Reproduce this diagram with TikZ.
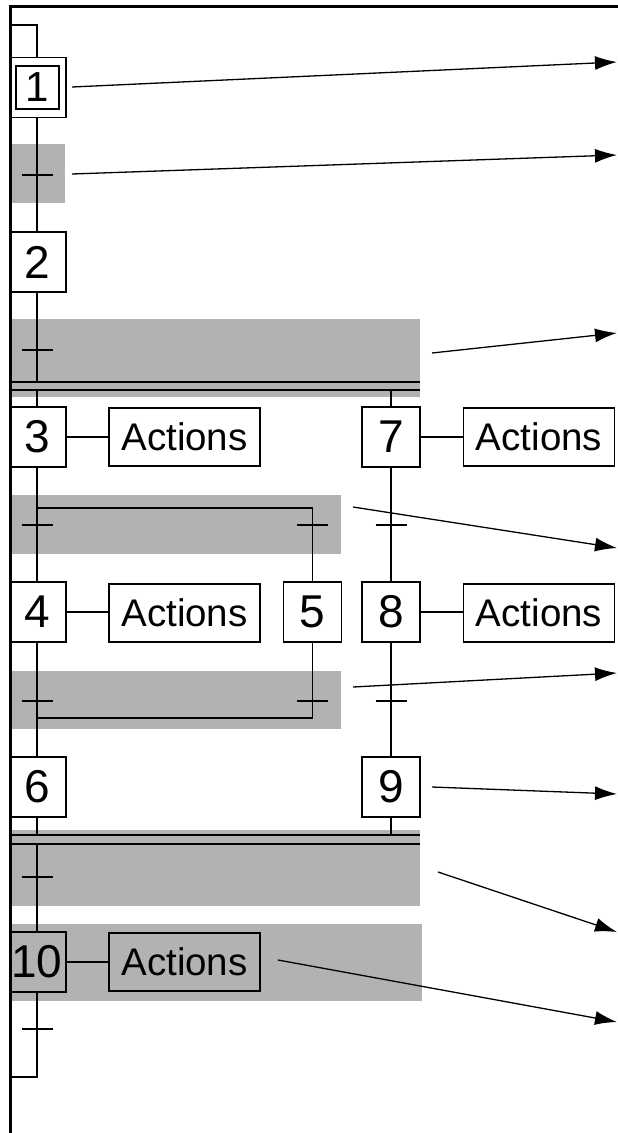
\documentclass[tikz,border=0pt]{standalone}
\usepackage{fontspec}
\setmainfont{Liberation Sans}
\usetikzlibrary{arrows.meta}
\begin{document}
\begin{tikzpicture}[x=1pt,y=-1pt,
  stepbox/.style={draw,line width=1.4pt,minimum width=58pt,minimum height=60pt,inner sep=0pt,font=\fontsize{46}{46}\selectfont},
  innerbox/.style={draw,line width=1.4pt,minimum size=43pt,inner sep=0pt,font=\fontsize{42}{42}\selectfont},
  actbox/.style={draw,line width=1.4pt,minimum width=151pt,minimum height=58pt,inner sep=0pt,font=\fontsize{38.5}{38.5}\selectfont},
  link/.style={line width=1.4pt},
  zone/.style={fill=gray!60,draw=none},
  pointer/.style={line width=1.3pt,-{Latex[length=22pt,width=14pt]}},
  frameline/.style={line width=3pt}]
\useasboundingbox (0,0) rectangle (618,1133);
\begin{scope}
\clip (10,6) rectangle (618,1133);
% shaded zones
\fill[zone] (0,144) rectangle (65,203);
\fill[zone] (0,319) rectangle (420,397);
\fill[zone] (0,495) rectangle (341,554);
\fill[zone] (0,671) rectangle (341,729);
\fill[zone] (0,830) rectangle (420,906);
\fill[zone] (0,924) rectangle (422,1001);
% steps
\node[stepbox] (s1) at (37,87.5) {};
\node[innerbox] (s1i) at (37.5,87.5) {1};
\node[stepbox] (s2) at (37,262) {2};
\node[stepbox] (s3) at (37,437) {3};
\node[stepbox] (s4) at (37,612) {4};
\node[stepbox] (s5) at (312.5,612) {5};
\node[stepbox] (s6) at (37,787) {6};
\node[stepbox] (s7) at (391,437) {7};
\node[stepbox] (s8) at (391,612) {8};
\node[stepbox] (s9) at (391,787) {9};
\node[stepbox] (s10) at (37,962) {10};
% actions
\node[actbox] (a3) at (184.5,437) {Actions};
\node[actbox] (a4) at (184.5,613) {Actions};
\node[actbox] (a7) at (539,437) {Actions};
\node[actbox] (a8) at (539,613) {Actions};
\node[actbox] (a10) at (184.5,962) {Actions};
\draw[link] (s3.east) -- (a3.west);
\draw[link] (s4.east) -- (a4.west |- s4.east);
\draw[link] (s7.east) -- (a7.west);
\draw[link] (s8.east) -- (a8.west |- s8.east);
\draw[link] (s10.east) -- (a10.west);
% coordinates
\coordinate (loopT) at (0,25);
\coordinate (loopB) at (0,1077);
\coordinate (divT) at (420,382);
\coordinate (divB) at (420,390);
\coordinate (orD) at (0,508);
\coordinate (orC) at (0,718);
\coordinate (cvT) at (420,835);
\coordinate (cvB) at (420,844);
\coordinate (t1) at (37,175);
\coordinate (t2) at (37,350);
\coordinate (t3) at (37,525);
\coordinate (t3m) at (312.5,525);
\coordinate (t3r) at (391,525);
\coordinate (t4) at (37,701);
\coordinate (t4m) at (312.5,701);
\coordinate (t4r) at (391,701);
\coordinate (t5) at (37,877);
\coordinate (t6) at (37,1029);
% main links
\draw[link] (loopT) -- (s1.north |- loopT) -- (s1.north);
\draw[link] (s1.south) -- (s2.north);
\draw[link] (s2.south) -- (s2.south |- divT);
\draw[link] (0,382) -- (divT);
\draw[link] (0,390) -- (divB);
\draw[link] (s3.north |- divB) -- (s3.north);
\draw[link] (s7.north |- divB) -- (s7.north);
\draw[link] (s3.south) -- (s4.north);
\draw[link] (s3.south |- orD) -- (s5.north |- orD) -- (s5.north);
\draw[link] (s4.south) -- (s6.north);
\draw[link] (s5.south) -- (s5.south |- orC) -- (s4.south |- orC);
\draw[link] (s7.south) -- (s8.north);
\draw[link] (s8.south) -- (s9.north);
\draw[link] (s9.south) -- (s9.south |- cvT);
\draw[link] (s6.south) -- (s6.south |- cvT);
\draw[link] (0,835) -- (cvT);
\draw[link] (0,844) -- (cvB);
\draw[link] (s10.north |- cvB) -- (s10.north);
\draw[link] (s10.south) -- (s10.south |- loopB) -- (loopB);
% transition ticks
\foreach \t in {t1,t2,t3,t3m,t3r,t4,t4m,t4r,t5,t6}
  \draw[link] ([xshift=-15.5pt]\t) -- ([xshift=15.5pt]\t);
% pointers
\coordinate (p1a) at (72,87);   \coordinate (p1b) at (617,62);
\coordinate (p2a) at (72,174);  \coordinate (p2b) at (617,155);
\coordinate (p3a) at (432,353); \coordinate (p3b) at (617,333);
\coordinate (p4a) at (353,507); \coordinate (p4b) at (617,548);
\coordinate (p5a) at (353,687); \coordinate (p5b) at (617,673);
\coordinate (p6a) at (432,787); \coordinate (p6b) at (617,794);
\coordinate (p7a) at (438,872); \coordinate (p7b) at (617,932);
\coordinate (p8a) at (278,960); \coordinate (p8b) at (617,1022);
\foreach \i in {1,...,8}
  \draw[pointer] (p\i a) -- (p\i b);
\end{scope}
% frame
\draw[frameline] (10,1133) -- (10,6.5) -- (618,6.5);
\end{tikzpicture}
\end{document}
